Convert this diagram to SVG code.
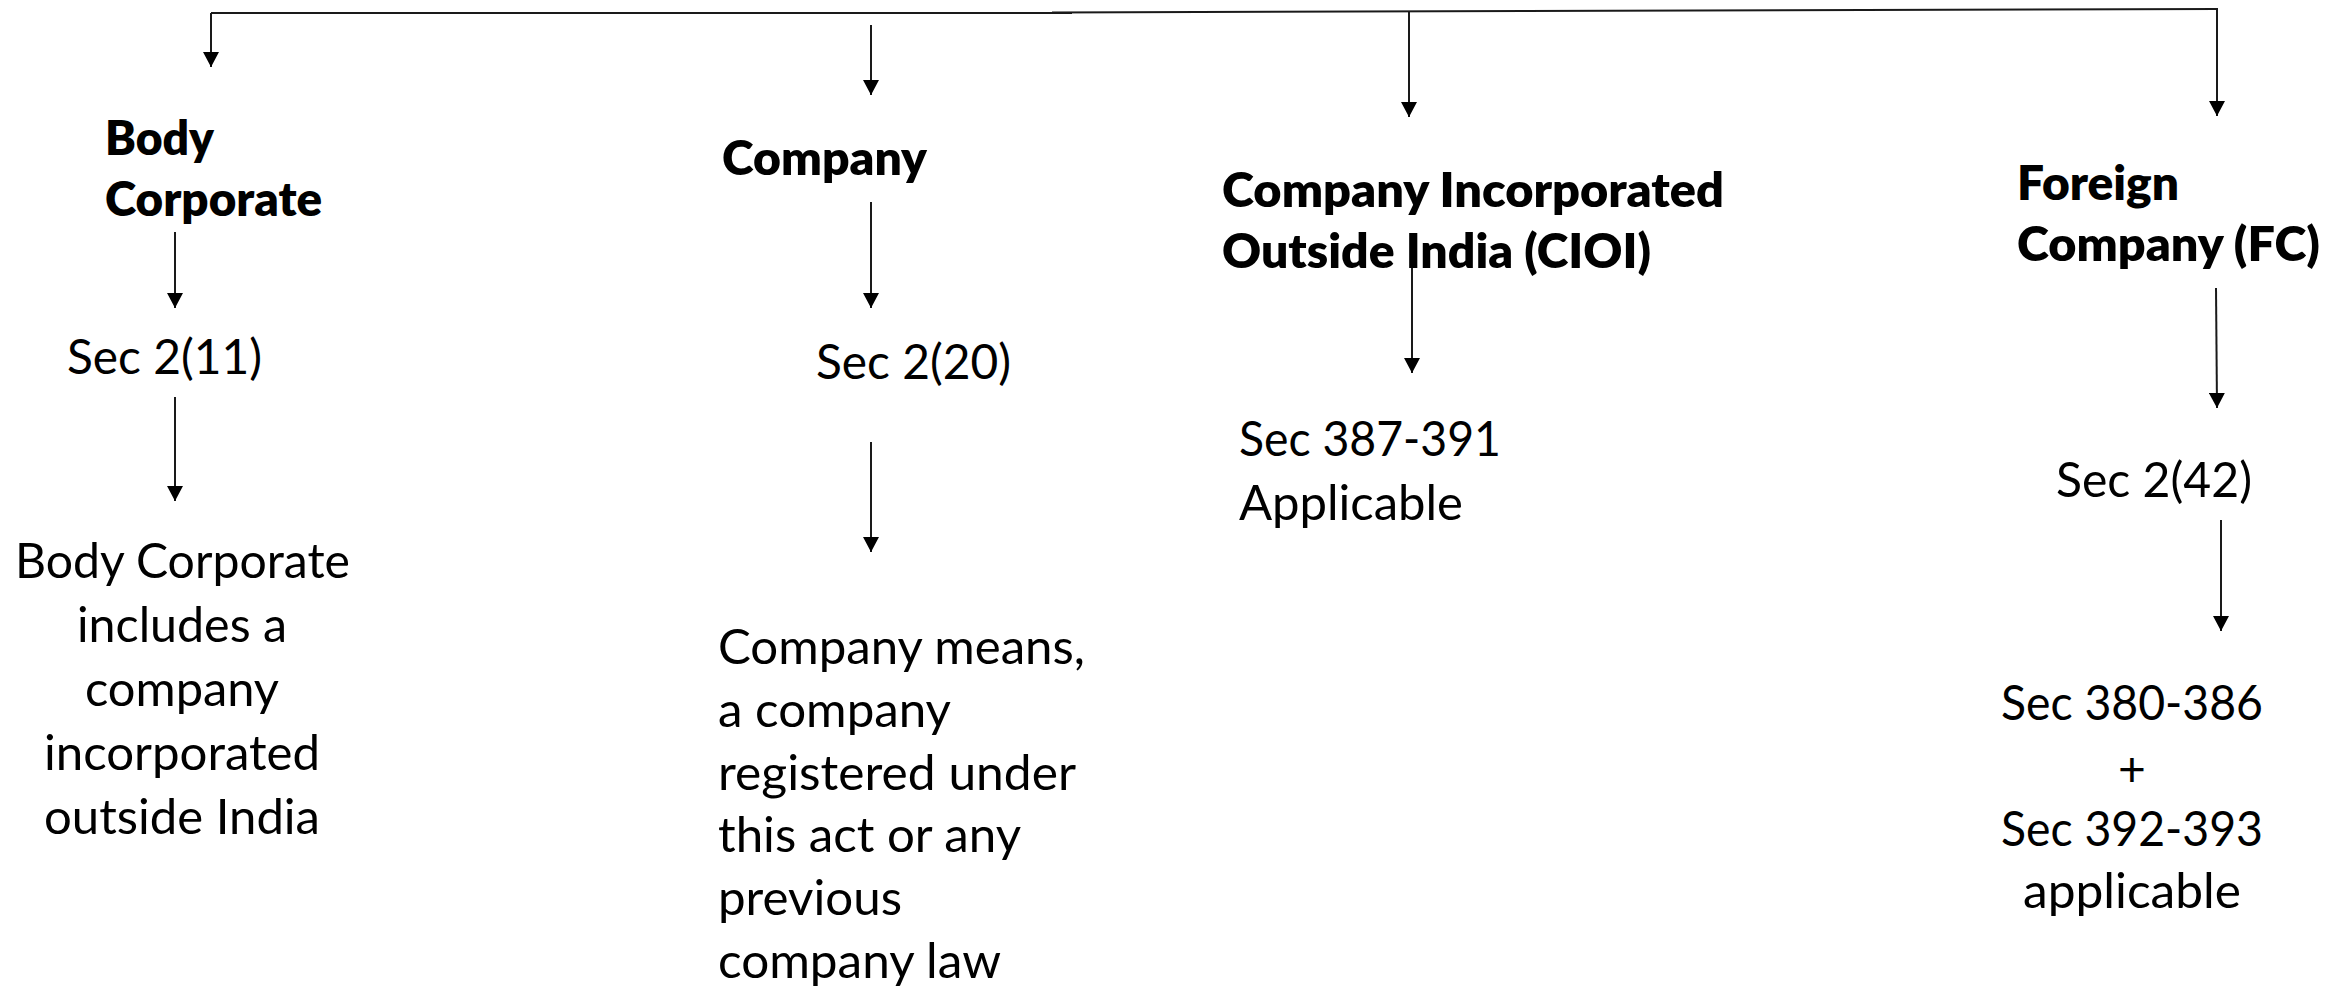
<svg xmlns="http://www.w3.org/2000/svg" width="2351" height="989" viewBox="0 0 2351 989">
  <style>
    text { font-family: Lato, "Open Sans", "Liberation Sans", sans-serif; font-size: 48px; fill: #000; }
    .head { font-weight: 800; }
    .conn line { stroke: #1a1a1a; stroke-width: 2; fill: none; }
    .conn .arr { marker-end: url(#tip); }
  </style>
  <defs>
    <marker id="tip" markerUnits="userSpaceOnUse" markerWidth="15" markerHeight="16" refX="15" refY="8" orient="auto">
      <path d="M0,0 L15,8 L0,16 Z" fill="#000"/>
    </marker>
  </defs>
  <rect width="2351" height="989" fill="#fff"/>

  <!-- connectors -->
  <g id="connectors" class="conn">
    <line x1="211" y1="13" x2="1072" y2="13"/>
    <line x1="1052" y1="12.5" x2="2218" y2="9"/>
    <line class="arr" x1="211" y1="13" x2="211" y2="67"/>
    <line class="arr" x1="871" y1="25" x2="871" y2="95"/>
    <line class="arr" x1="1409" y1="12" x2="1409" y2="117"/>
    <line class="arr" x1="2217" y1="9" x2="2217" y2="116"/>
    <line class="arr" x1="175" y1="232" x2="175" y2="308"/>
    <line class="arr" x1="175" y1="397" x2="175" y2="501"/>
    <line class="arr" x1="871" y1="202" x2="871" y2="308"/>
    <line class="arr" x1="871" y1="442" x2="871" y2="552"/>
    <line class="arr" x1="1412" y1="240" x2="1412" y2="373"/>
    <line class="arr" x1="2216" y1="288" x2="2217" y2="408"/>
    <line class="arr" x1="2221" y1="520" x2="2221" y2="631"/>
  </g>

  <!-- Body Corporate branch -->
  <g id="body-corporate">
    <text class="head" x="105" y="155" textLength="109" lengthAdjust="spacingAndGlyphs">Body</text>
    <text class="head" x="105" y="216" textLength="217" lengthAdjust="spacingAndGlyphs">Corporate</text>
  </g>
  <g id="sec-2-11">
    <text x="67" y="374" textLength="195" lengthAdjust="spacingAndGlyphs">Sec 2(11)</text>
  </g>
  <g id="body-corporate-def">
    <text x="15" y="578" textLength="335" lengthAdjust="spacingAndGlyphs">Body Corporate</text>
    <text x="77" y="642" textLength="210" lengthAdjust="spacingAndGlyphs">includes a</text>
    <text x="85" y="706" textLength="194" lengthAdjust="spacingAndGlyphs">company</text>
    <text x="44" y="770" textLength="276" lengthAdjust="spacingAndGlyphs">incorporated</text>
    <text x="44" y="834" textLength="276" lengthAdjust="spacingAndGlyphs">outside India</text>
  </g>

  <!-- Company branch -->
  <g id="company">
    <text class="head" x="722" y="175" textLength="205" lengthAdjust="spacingAndGlyphs">Company</text>
  </g>
  <g id="sec-2-20">
    <text x="816" y="379" textLength="195" lengthAdjust="spacingAndGlyphs">Sec 2(20)</text>
  </g>
  <g id="company-def">
    <text x="718" y="664" textLength="367" lengthAdjust="spacingAndGlyphs">Company means,</text>
    <text x="718" y="727" textLength="233" lengthAdjust="spacingAndGlyphs">a company</text>
    <text x="718" y="790" textLength="358" lengthAdjust="spacingAndGlyphs">registered under</text>
    <text x="718" y="852" textLength="303" lengthAdjust="spacingAndGlyphs">this act or any</text>
    <text x="718" y="915" textLength="184" lengthAdjust="spacingAndGlyphs">previous</text>
    <text x="718" y="978" textLength="283" lengthAdjust="spacingAndGlyphs">company law</text>
  </g>

  <!-- Company Incorporated Outside India branch -->
  <g id="cioi">
    <text class="head" x="1222" y="207" textLength="502" lengthAdjust="spacingAndGlyphs">Company Incorporated</text>
    <text class="head" x="1222" y="268" textLength="429" lengthAdjust="spacingAndGlyphs">Outside India (CIOI)</text>
  </g>
  <g id="cioi-sections">
    <text x="1239" y="456" textLength="262" lengthAdjust="spacingAndGlyphs">Sec 387-391</text>
    <text x="1239" y="520" textLength="224" lengthAdjust="spacingAndGlyphs">Applicable</text>
  </g>

  <!-- Foreign Company branch -->
  <g id="foreign-company">
    <text class="head" x="2017" y="200" textLength="162" lengthAdjust="spacingAndGlyphs">Foreign</text>
    <text class="head" x="2017" y="261" textLength="303" lengthAdjust="spacingAndGlyphs">Company (FC)</text>
  </g>
  <g id="sec-2-42">
    <text x="2056" y="497" textLength="196" lengthAdjust="spacingAndGlyphs">Sec 2(42)</text>
  </g>
  <g id="fc-sections">
    <text x="2001" y="720" textLength="262" lengthAdjust="spacingAndGlyphs">Sec 380-386</text>
    <text x="2132" y="786" text-anchor="middle">+</text>
    <text x="2001" y="846" textLength="262" lengthAdjust="spacingAndGlyphs">Sec 392-393</text>
    <text x="2023" y="908" textLength="218" lengthAdjust="spacingAndGlyphs">applicable</text>
  </g>
</svg>
